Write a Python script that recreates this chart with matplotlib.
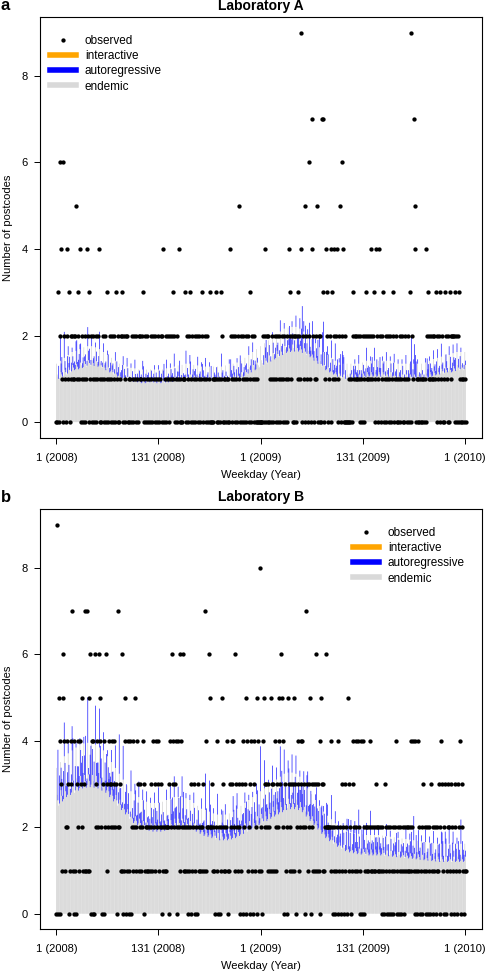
import matplotlib
matplotlib.use("Agg")
import matplotlib.pyplot as plt
from matplotlib.lines import Line2D
import numpy as np

plt.rcParams['font.family'] = ['Liberation Sans', 'DejaVu Sans']

# observed counts per weekday (1 .. 522), one digit per day, 10 days per chunk
obs_a = ("0030624106" "2104213021" "2121251231" "4012012014" "2301201201"
         "2012401012" "0120130120" "1201203120" "0123202102" "2010102102"
         "1021021212" "3012012010" "2102102101" "2012024012" "0120121213"
         "2012014010" "0111302102" "3012012012" "0120132012" "0120103000"
         "1113010103" "1201010101" "0421021021" "0215020120" "1201201302"
         "1021010000" "0002024020" "2010120120" "1201201201" "2012014321"
         "2020202312" "1490215021" "0621074201" "2150202077" "3014230124"
         "0312412401" "2506240200" "0001010321" "2121210210" "2102312121"
         "2412301420" "1420123012" "0120120132" "0120101201" "2010210210"
         "3902175401" "0101010101" "0423121212" "1213201203" "1201032102"
         "0312222302" "0203101010" "10")
obs_b = ("0905043156" "4124230134" "7104103421" "4352137117" "1156040406"
         "2342654203" "0426132432" "3423423027" "2311601450" "1401402142"
         "5124312312" "4301212121" "3214231423" "4123021212" "1220342634"
         "2340242614" "2612121201" "2031230120" "3121212317" "4122652231"
         "2102410201" "2531212410" "1324342163" "2132013402" "3504120341"
         "0431250418" "1204532321" "3215313142" "1324536524" "0310253123"
         "1315302431" "2434230273" "1235023131" "6313104531" "3126222224"
         "1201201240" "1203120132" "0513201432" "1421420140" "4201212124"
         "1212121321" "2121021032" "1020120120" "1240120120" "1201212121"
         "2412410410" "4120120312" "0120120312" "0120121302" "4310230123"
         "2103210321" "0321403210" "11")

# fitted endemic level per 5-day week (lowest weekday)
endemic_week_a = [1.00, 1.05, 1.10, 1.15, 1.20,
                  1.22, 1.25, 1.28, 1.30, 1.30, 1.28,
                  1.25, 1.20, 1.15, 1.10, 1.05,
                  1.00, 0.98, 0.95, 0.93, 0.92, 0.90, 0.90, 0.90, 0.90, 0.90,
                  0.90, 0.90, 0.92, 0.93, 0.95, 0.97, 0.98, 1.00, 1.00, 0.98, 0.97, 0.95, 0.95, 0.95, 0.95,
                  0.95, 0.95, 0.97, 1.00, 1.00, 1.02, 1.05, 1.10, 1.15, 1.20,
                  1.25, 1.30, 1.35, 1.40, 1.45, 1.50, 1.55, 1.60, 1.62, 1.63,
                  1.63, 1.60, 1.55, 1.50, 1.42, 1.35,
                  1.28, 1.20, 1.15, 1.10, 1.05, 1.02, 1.00, 1.00, 1.00,
                  1.00, 1.00, 1.02, 1.05, 1.05, 1.05, 1.05, 1.05, 1.05, 1.05, 1.02, 1.00, 1.00, 1.00, 1.00,
                  1.00, 1.00, 1.00, 1.02, 1.05, 1.08, 1.10, 1.12, 1.15, 1.15, 1.18, 1.20, 1.20, 1.20]
endemic_week_b = [2.50, 2.60, 2.70, 2.75,
                  2.80, 2.85, 2.90, 2.92, 2.93, 2.92, 2.90, 2.85, 2.80,
                  2.70, 2.60, 2.50, 2.40, 2.30, 2.20, 2.10, 2.05,
                  2.00, 1.95, 1.92, 1.90, 1.90, 1.90, 1.92, 1.95, 1.97, 2.00,
                  2.00, 2.00, 1.98, 1.95, 1.90, 1.85, 1.80, 1.78, 1.75, 1.72,
                  1.70, 1.70, 1.70, 1.72, 1.75, 1.80, 1.85, 1.90, 1.95, 2.00,
                  2.05, 2.10, 2.15, 2.20, 2.25, 2.30, 2.35, 2.40, 2.42, 2.42,
                  2.40, 2.35, 2.25, 2.15, 2.05, 1.95,
                  1.85, 1.75, 1.68, 1.62, 1.55, 1.50, 1.45, 1.42, 1.40,
                  1.38, 1.37, 1.36, 1.35, 1.35, 1.35, 1.35, 1.34, 1.33, 1.32, 1.31, 1.30, 1.29, 1.28, 1.27,
                  1.26, 1.25, 1.24, 1.23, 1.22, 1.21, 1.20, 1.20, 1.20, 1.20, 1.20, 1.20, 1.20, 1.20]

# autoregressive rate per week: blue part = rate * count of the previous day
ar_rate_a = [0.10, 0.10, 0.10, 0.10, 0.10, 0.11, 0.11, 0.11, 0.11, 0.11,
             0.11, 0.10, 0.10, 0.10, 0.10, 0.10, 0.10, 0.10, 0.10, 0.10,
             0.10, 0.10, 0.10, 0.10, 0.10, 0.10, 0.10, 0.10, 0.10, 0.10,
             0.10, 0.10, 0.10, 0.10, 0.10, 0.10, 0.10, 0.10, 0.10, 0.10,
             0.10, 0.10, 0.10, 0.10, 0.10, 0.10, 0.10, 0.10, 0.10, 0.10,
             0.11, 0.11, 0.11, 0.12, 0.12, 0.12, 0.13, 0.13, 0.13, 0.13,
             0.13, 0.13, 0.12, 0.12, 0.12, 0.11, 0.11, 0.11, 0.10, 0.10,
             0.10, 0.10, 0.10, 0.10, 0.10, 0.10, 0.10, 0.10, 0.10, 0.10,
             0.10, 0.10, 0.10, 0.10, 0.10, 0.10, 0.10, 0.10, 0.10, 0.10,
             0.10, 0.10, 0.10, 0.10, 0.10, 0.10, 0.10, 0.10, 0.10, 0.10,
             0.10, 0.10, 0.10, 0.10, 0.10]
ar_rate_b = [0.13, 0.13, 0.13, 0.14, 0.14, 0.14, 0.15, 0.15, 0.15, 0.15,
             0.15, 0.15, 0.14, 0.14, 0.14, 0.13, 0.13, 0.13, 0.12, 0.12,
             0.12, 0.12, 0.12, 0.12, 0.12, 0.12, 0.12, 0.12, 0.12, 0.12,
             0.12, 0.12, 0.12, 0.12, 0.12, 0.12, 0.12, 0.12, 0.12, 0.12,
             0.12, 0.12, 0.12, 0.12, 0.12, 0.12, 0.12, 0.12, 0.12, 0.12,
             0.12, 0.12, 0.13, 0.13, 0.13, 0.13, 0.14, 0.14, 0.14, 0.14,
             0.14, 0.14, 0.14, 0.13, 0.13, 0.13, 0.13, 0.13, 0.13, 0.13,
             0.14, 0.14, 0.14, 0.14, 0.14, 0.14, 0.14, 0.14, 0.14, 0.14,
             0.14, 0.14, 0.14, 0.14, 0.14, 0.14, 0.14, 0.14, 0.14, 0.14,
             0.14, 0.14, 0.14, 0.14, 0.14, 0.14, 0.14, 0.14, 0.14, 0.14,
             0.14, 0.14, 0.14, 0.14, 0.14]

# weekday multipliers of the endemic part (day 1 opens the cycle)
weekday_endemic = [1.35, 1.10, 1.05, 1.00, 1.02]

tick_pos = [1, 131, 261, 391, 521]
tick_labels = ["1 (2008)", "131 (2008)", "1 (2009)", "131 (2009)", "1 (2010)"]

W, H = 486, 973


def components(obs, endemic_week, ar_rate):
    y = np.array([int(c) for c in obs])
    day = np.arange(1, len(y) + 1)
    week = (day - 1) // 5
    wd = (day - 1) % 5
    end = np.array(endemic_week)[week] * np.array(weekday_endemic)[wd]
    y_prev = np.concatenate([y[:1], y[:-1]])
    ar = np.array(ar_rate)[week] * y_prev
    return day, y, end, ar


def plot_panel(ax, obs, endemic_week, ar_rate):
    day, y, end, ar = components(obs, endemic_week, ar_rate)
    ax.vlines(day, 0, end, color='#C6C6C6', lw=0.38, snap=False)
    ax.vlines(day, end, end + ar, color='#0000FF', lw=0.45, snap=False)
    ax.plot(day, y, 'o', color='black', ms=3.1, mew=0)
    n = len(day)
    ax.set_xlim(1 - 0.04 * (n - 1), n + 0.04 * (n - 1))
    ax.set_ylim(-0.36, 9.36)
    ax.set_xticks(tick_pos)
    ax.set_xticklabels(tick_labels)
    ax.set_yticks([0, 2, 4, 6, 8])
    ax.tick_params(labelsize=8, length=4.2, width=0.7)
    ax.tick_params(axis='x', pad=6.5)
    ax.tick_params(axis='y', pad=4.5)
    for s in ax.spines.values():
        s.set_linewidth(0.8)
    ax.set_xlabel("Weekday (Year)", fontsize=8, labelpad=5)
    ax.set_ylabel("Number of postcodes", fontsize=8, labelpad=6)


def legend_handles():
    return [Line2D([], [], marker='o', ls='none', color='black', ms=3.1, mew=0),
            Line2D([], [], color='#FFA500', lw=4),
            Line2D([], [], color='#0000FF', lw=4),
            Line2D([], [], color='#D9D9D9', lw=4)]


labels = ["observed", "interactive", "autoregressive", "endemic"]

fig = plt.figure(figsize=(W / 100, H / 100), dpi=100)
ax_a = fig.add_axes([40 / W, 1 - 437.7 / H, 442 / W, 420.7 / H])
ax_b = fig.add_axes([40 / W, 1 - 929.3 / H, 442 / W, 420 / H])

plot_panel(ax_a, obs_a, endemic_week_a, ar_rate_a)
plot_panel(ax_b, obs_b, endemic_week_b, ar_rate_b)

leg_kw = dict(frameon=False, fontsize=8.5, handlelength=2.2, handletextpad=0.75,
              labelspacing=0.27, borderpad=0, borderaxespad=0, numpoints=1)
fig.legend(legend_handles(), labels, loc='upper left',
           bbox_to_anchor=(50 / W, 1 - 35 / H), **leg_kw)
fig.legend(legend_handles(), labels, loc='upper left',
           bbox_to_anchor=(353 / W, 1 - 527 / H), **leg_kw)

fig.text(261 / W, 1 - 6 / H, "Laboratory A", ha='center', va='center',
         fontsize=10, fontweight='bold')
fig.text(261 / W, 1 - 497 / H, "Laboratory B", ha='center', va='center',
         fontsize=10, fontweight='bold')
fig.text(0.5 / W, 1 - 6 / H, "a", ha='left', va='center', fontsize=12, fontweight='bold')
fig.text(0.5 / W, 1 - 497 / H, "b", ha='left', va='center', fontsize=12, fontweight='bold')

fig.savefig("out.png", dpi=100)
